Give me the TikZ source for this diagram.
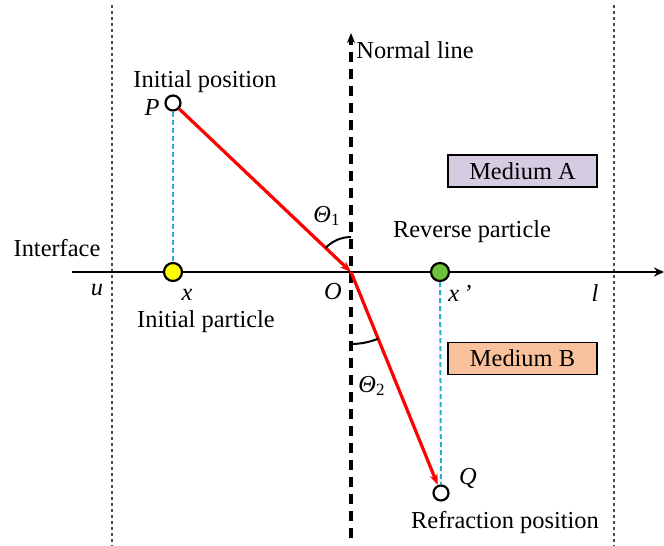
\documentclass[tikz,border=0pt]{standalone}
\usepackage{fontspec}
\usepackage{xcolor}
\usepackage{tikz}
\usetikzlibrary{arrows.meta, positioning, calc}
\setmainfont{Liberation Serif}
\definecolor{rayred}{RGB}{255, 0, 0}
\definecolor{projblue}{RGB}{40, 170, 220}
\definecolor{mediumA}{RGB}{214, 204, 226}
\definecolor{mediumB}{RGB}{250, 194, 156}
\definecolor{partyellow}{RGB}{255, 255, 0}
\definecolor{partgreen}{RGB}{110, 196, 60}

\begin{document}
\begin{tikzpicture}[
    x=0.5pt, y=-0.5pt,
    lbl/.style={font=\fontsize{12.2}{14}\selectfont, inner sep=0pt},
    sym/.style={lbl, font=\fontsize{12.2}{14}\selectfont\itshape},
    particle/.style={circle, draw=black, line width=1.1pt, minimum size=9pt, inner sep=0pt},
    probe/.style={circle, draw=black, fill=white, line width=1.1pt, minimum size=7.5pt, inner sep=0pt},
    ray/.style={-{Stealth[length=5.5pt, width=4pt]}, line width=1.6pt, rayred},
    proj/.style={projblue, line width=1pt, dash pattern=on 2.5pt off 1.5pt},
    bound/.style={gray!60!black, line width=0.8pt, dash pattern=on 1.6pt off 1.4pt},
    medium/.style={rectangle, draw=black, line width=0.9pt, minimum width=74.5pt,
                   minimum height=16pt, inner sep=0pt, font=\fontsize{12.2}{14}\selectfont}
]
\useasboundingbox (0,0) rectangle (664,546);

% Boundaries
\draw[bound] (112,5) coordinate (uT) -- (112,546) coordinate (uB);
\draw[bound] (614,5) coordinate (lT) -- (614,546) coordinate (lB);

% Interface and normal line
\coordinate (O) at (351,272);
\draw[line width=1.4pt, -{Stealth[length=5pt, width=4.5pt]}] (72,272) coordinate (ifL) -- (664,272) coordinate (ifR);
\draw[line width=1.6pt, dash pattern=on 5pt off 3.5pt] (351,538) coordinate (nB) -- (351,40);
\draw[-{Stealth[length=5pt, width=4pt]}, line width=1.2pt] (351,44) -- (351,33) coordinate (nT);

% Positions and particles
\node[probe] (P) at (173,103) {};
\node[probe] (Q) at (441,493) {};
\node[particle, fill=partyellow] (X) at (173,272) {};
\node[particle, fill=partgreen] (Xr) at (440,272) {};

% Projections
\draw[proj] (P) -- (X);
\draw[proj] (Xr) -- (Q);

% Rays
\draw[ray] (P) -- (O);
\draw[ray] (O) -- (Q);

% Angles
\draw[line width=1pt] ($(O)+(0,-35)$) arc[start angle=90, end angle=136.5, radius=17.5pt];
\draw[line width=1pt] ($(O)+(0,72)$) arc[start angle=270, end angle=292.2, radius=36pt];

% Media
\node[medium, fill=mediumA] (mA) at (522.5,171) {Medium A};
\node[medium, fill=mediumB] (mB) at (522.5,358.5) {Medium B};

% Labels
\node[lbl, anchor=west] (nl) at (356,50) {Normal line};
\node[lbl] (ip) at (205,82) {Initial position};
\node[sym] (Pl) at (152,108) {P};
\node[lbl] (itf) at (57,248) {Interface};
\node[sym] (ul) at (97,290) {u};
\node[sym] (xl) at (187,295) {x};
\node[lbl] (ipart) at (206,322) {Initial particle};
\node[sym] (Ol) at (333,292) {O};
\node[lbl] (t1) at (327,216) {\textit{Θ}\textsubscript{1}};
\node[lbl] (rp) at (472,232) {Reverse particle};
\node[sym] (xr) at (460,293) {x\,\textquoteright};
\node[sym] (ll) at (595,293) {l};
\node[lbl] (t2) at (372,386) {\textit{Θ}\textsubscript{2}};
\node[sym] (Ql) at (468,478) {Q};
\node[lbl] (rpos) at (505,523) {Refraction position};

\end{tikzpicture}
\end{document}
